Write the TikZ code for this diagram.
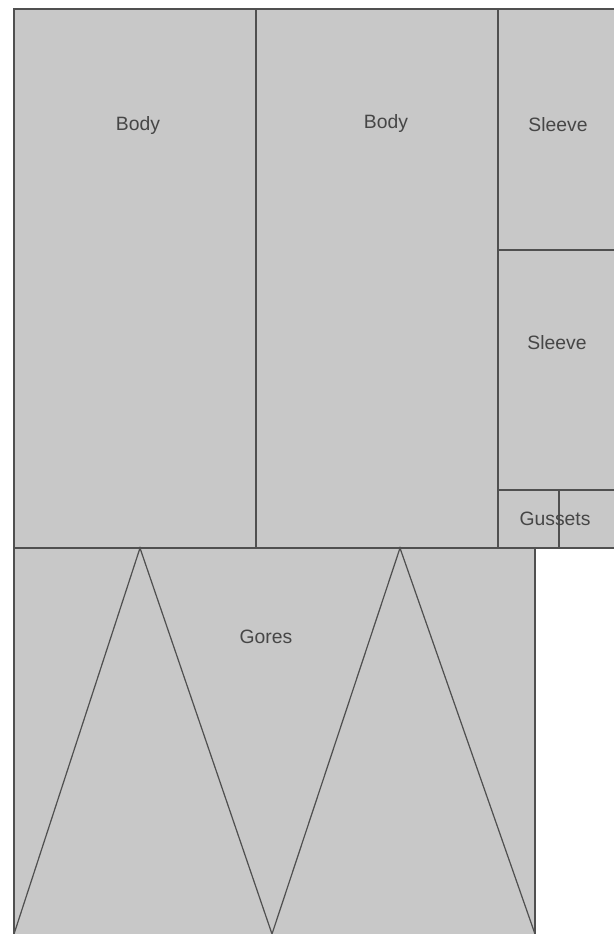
\documentclass[tikz,border=0pt]{standalone}
\usepackage{fontspec}
\setmainfont{Liberation Sans}
\usetikzlibrary{positioning}
\definecolor{piecegray}{RGB}{200,200,200}
\definecolor{seamgray}{RGB}{80,80,80}
\definecolor{labelgray}{RGB}{70,70,70}

\begin{document}
\begin{tikzpicture}[x=0.02cm, y=-0.02cm,
  piece/.style={draw=seamgray, fill=piecegray, line width=0.7pt},
  seam/.style={draw=seamgray, line width=0.7pt},
  label/.style={font=\fontsize{11}{13}\selectfont, text=labelgray, inner sep=1pt},
]
\useasboundingbox (0,0) rectangle (613,934);

% Body panels
\draw[piece] (14,9) rectangle (256,548);
\draw[piece] (256,9) rectangle (498,548);
\node[label] (body1) at (138,125) {Body};
\node[label] (body2) at (386,123) {Body};

% Sleeves
\draw[piece] (498,9) rectangle (615,250);
\draw[piece] (498,250) rectangle (615,490);
\node[label] (sleeve1) at (558,125) {Sleeve};
\node[label] (sleeve2) at (557,343) {Sleeve};

% Gussets
\draw[piece] (498,490) rectangle (559,548);
\draw[piece] (559,490) rectangle (615,548);
\node[label] (gussets) at (555,519) {Gussets};

% Gores
\draw[piece] (14,548) rectangle (535,935);
\draw[seam] (14,934) -- (140,548) -- (272,934) -- (400,548) -- (535,934);
\node[label] (gores) at (266,637) {Gores};
\end{tikzpicture}
\end{document}
